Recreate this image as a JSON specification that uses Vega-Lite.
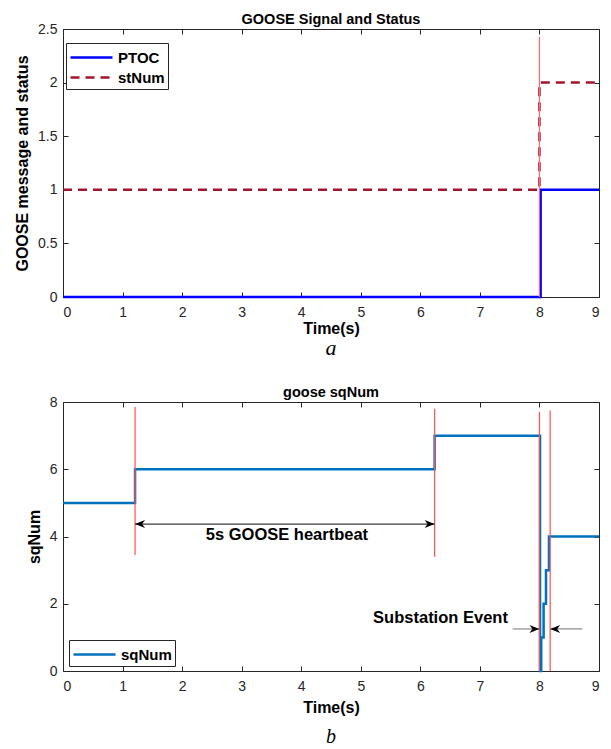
{
  "$schema": "https://vega.github.io/schema/vega-lite/v6.json",
  "padding": {"left": 14, "top": 11, "right": 6, "bottom": 0},
  "background": "white",
  "bounds": "flush",
  "spacing": 105,
  "resolve": {"scale": {"color": "independent", "strokeDash": "independent"}, "legend": {"color": "independent", "strokeDash": "independent"}},
  "config": {
    "font": "Liberation Sans",
    "view": {"stroke": "#262626", "strokeWidth": 1},
    "axis": {
      "grid": false, "domain": false, "tickColor": "#262626", "tickSize": -5, "tickWidth": 1,
      "labelColor": "#262626", "labelFont": "Liberation Sans", "labelFontSize": 14,
      "titleFont": "Liberation Sans", "titleFontSize": 16, "titleFontWeight": "bold", "titleColor": "#000000"
    },
    "axisX": {"labelPadding": 13, "titlePadding": 1},
    "axisY": {"labelPadding": 11, "titlePadding": 7},
    "title": {"font": "Liberation Sans", "fontSize": 14.5, "fontWeight": "bold", "color": "#000000", "offset": -5},
    "legend": {
      "strokeColor": "#262626", "fillColor": "white", "padding": 3, "symbolType": "M-1,0H3.2",
      "symbolSize": 400, "symbolStrokeWidth": 2.5, "labelFont": "Liberation Sans", "labelFontSize": 15,
      "labelFontWeight": "bold", "labelColor": "#000000", "rowPadding": 0, "labelOffset": 26
    }
  },
  "datasets": {
    "top": [
      {"t": 0, "v": 0, "series": "PTOC"},
      {"t": 8.02, "v": 1, "series": "PTOC"},
      {"t": 9, "v": 1, "series": "PTOC"},
      {"t": 0, "v": 1, "series": "stNum"},
      {"t": 8.0, "v": 2, "series": "stNum"},
      {"t": 9, "v": 2, "series": "stNum"}
    ],
    "topRule": [{"t": 8.0, "v": 0, "v2": 2.43}],
    "capA": [{"t": 4.5, "v": -0.48, "label": "a"}],
    "sq": [
      {"t": 0, "v": 5, "s": "sqNum"},
      {"t": 1.21, "v": 6, "s": "sqNum"},
      {"t": 6.24, "v": 7, "s": "sqNum"},
      {"t": 8.01, "v": 0, "s": "sqNum"},
      {"t": 8.03, "v": 1, "s": "sqNum"},
      {"t": 8.07, "v": 2, "s": "sqNum"},
      {"t": 8.11, "v": 3, "s": "sqNum"},
      {"t": 8.16, "v": 4, "s": "sqNum"},
      {"t": 9, "v": 4, "s": "sqNum"}
    ],
    "sqRules": [
      {"t": 1.21, "v": 3.45, "v2": 7.85},
      {"t": 6.24, "v": 3.4, "v2": 7.8},
      {"t": 8.0, "v": 0, "v2": 7.7},
      {"t": 8.18, "v": 0, "v2": 7.75}
    ],
    "arrowLines": [
      {"t": 1.21, "t2": 6.24, "v": 4.37, "kind": "heartbeat"},
      {"t": 7.55, "t2": 8.0, "v": 1.25, "kind": "event"},
      {"t": 8.18, "t2": 8.72, "v": 1.25, "kind": "event"}
    ],
    "arrowHeads": [
      {"t": 1.21, "v": 4.37, "dir": "L"},
      {"t": 6.24, "v": 4.37, "dir": "R"},
      {"t": 8.0, "v": 1.25, "dir": "R"},
      {"t": 8.18, "v": 1.25, "dir": "L"}
    ],
    "noteHeart": [{"t": 3.76, "v": 4.05, "label": "5s GOOSE heartbeat"}],
    "noteEvent": [{"t": 7.47, "v": 1.58, "label": "Substation Event"}],
    "capB": [{"t": 4.5, "v": -1.97, "label": "b"}]
  },
  "vconcat": [
    {
      "width": 536,
      "height": 268,
      "title": "GOOSE Signal and Status",
      "resolve": {"axis": {"x": "independent", "y": "independent"}},
      "layer": [
        {
          "data": {"name": "top"},
          "mark": {"type": "line", "interpolate": "step-after", "strokeWidth": 2.5},
          "encoding": {
            "x": {"field": "t", "type": "quantitative", "scale": {"domain": [0, 9], "nice": false},
                  "axis": {"values": [0,1,2,3,4,5,6,7,8,9], "title": "Time(s)"}},
            "y": {"field": "v", "type": "quantitative", "scale": {"domain": [0, 2.5], "nice": false},
                  "axis": {"values": [0,0.5,1,1.5,2,2.5], "labelExpr": "'' + datum.value", "title": "GOOSE message and status"}},
            "color": {"field": "series", "type": "nominal",
                      "scale": {"domain": ["PTOC", "stNum"], "range": ["#0000ff", "#a2142f"]},
                      "legend": {"orient": "none", "legendX": 3, "legendY": 14, "title": null}},
            "strokeDash": {"field": "series", "type": "nominal",
                      "scale": {"domain": ["PTOC", "stNum"], "range": [[1, 0], [9, 6]]},
                      "legend": {"orient": "none", "legendX": 3, "legendY": 14, "title": null}}
          }
        },
        {
          "data": {"name": "topRule"},
          "mark": {"type": "rule", "color": "#ff6a6a", "strokeWidth": 1.2},
          "encoding": {
            "x": {"field": "t", "type": "quantitative", "scale": {"domain": [0, 9], "nice": false},
                  "axis": {"orient": "top", "labels": false, "title": null, "values": [0,1,2,3,4,5,6,7,8,9]}},
            "y": {"field": "v", "type": "quantitative", "scale": {"domain": [0, 2.5], "nice": false},
                  "axis": {"orient": "right", "labels": false, "title": null, "values": [0,0.5,1,1.5,2,2.5]}},
            "y2": {"field": "v2"}
          }
        },
        {
          "data": {"name": "capA"},
          "mark": {"type": "text", "font": "Liberation Serif", "fontStyle": "italic", "fontSize": 22, "color": "#000000"},
          "encoding": {
            "x": {"field": "t", "type": "quantitative", "scale": {"domain": [0, 9], "nice": false}, "axis": null},
            "y": {"field": "v", "type": "quantitative", "scale": {"domain": [0, 2.5], "nice": false}, "axis": null},
            "text": {"field": "label"}
          }
        }
      ]
    },
    {
      "width": 536,
      "height": 269,
      "title": "goose sqNum",
      "resolve": {"axis": {"x": "independent", "y": "independent"}},
      "layer": [
        {
          "data": {"name": "sq"},
          "mark": {"type": "line", "interpolate": "step-after", "strokeWidth": 2.5},
          "encoding": {
            "x": {"field": "t", "type": "quantitative", "scale": {"domain": [0, 9], "nice": false},
                  "axis": {"values": [0,1,2,3,4,5,6,7,8,9], "title": "Time(s)", "titlePadding": 6}},
            "y": {"field": "v", "type": "quantitative", "scale": {"domain": [0, 8], "nice": false},
                  "axis": {"values": [0,2,4,6,8], "title": "sqNum"}},
            "color": {"field": "s", "type": "nominal",
                      "scale": {"domain": ["sqNum"], "range": ["#0072bd"]},
                      "legend": {"orient": "none", "legendX": 6, "legendY": 238, "title": null}}
          }
        },
        {
          "data": {"name": "sqRules"},
          "mark": {"type": "rule", "color": "#ff5050", "strokeWidth": 1.2},
          "encoding": {
            "x": {"field": "t", "type": "quantitative", "scale": {"domain": [0, 9], "nice": false},
                  "axis": {"orient": "top", "labels": false, "title": null, "values": [0,1,2,3,4,5,6,7,8,9]}},
            "y": {"field": "v", "type": "quantitative", "scale": {"domain": [0, 8], "nice": false},
                  "axis": {"orient": "right", "labels": false, "title": null, "values": [0,2,4,6,8]}},
            "y2": {"field": "v2"}
          }
        },
        {
          "data": {"name": "arrowLines"},
          "mark": {"type": "rule", "strokeWidth": 1.2},
          "encoding": {
            "x": {"field": "t", "type": "quantitative", "scale": {"domain": [0, 9], "nice": false}, "axis": null},
            "x2": {"field": "t2"},
            "y": {"field": "v", "type": "quantitative", "scale": {"domain": [0, 8], "nice": false}, "axis": null},
            "stroke": {"field": "kind", "type": "nominal", "scale": {"domain": ["heartbeat", "event"], "range": ["#3a3a3a", "#8c8c8c"]}, "legend": null}
          }
        },
        {
          "data": {"name": "arrowHeads"},
          "mark": {"type": "point", "filled": true, "opacity": 1, "size": 100, "color": "#000000"},
          "encoding": {
            "x": {"field": "t", "type": "quantitative", "scale": {"domain": [0, 9], "nice": false}, "axis": null},
            "y": {"field": "v", "type": "quantitative", "scale": {"domain": [0, 8], "nice": false}, "axis": null},
            "shape": {"field": "dir", "type": "nominal", "legend": null,
                      "scale": {"domain": ["L", "R"], "range": ["M0,0L2,-0.8L1.4,0L2,0.8Z", "M0,0L-2,-0.8L-1.4,0L-2,0.8Z"]}}
          }
        },
        {
          "data": {"name": "noteHeart"},
          "mark": {"type": "text", "fontSize": 16.5, "fontWeight": "bold", "color": "#000000", "baseline": "middle", "align": "center"},
          "encoding": {
            "x": {"field": "t", "type": "quantitative", "scale": {"domain": [0, 9], "nice": false}, "axis": null},
            "y": {"field": "v", "type": "quantitative", "scale": {"domain": [0, 8], "nice": false}, "axis": null},
            "text": {"field": "label"}
          }
        },
        {
          "data": {"name": "noteEvent"},
          "mark": {"type": "text", "fontSize": 16.5, "fontWeight": "bold", "color": "#000000", "baseline": "middle", "align": "right"},
          "encoding": {
            "x": {"field": "t", "type": "quantitative", "scale": {"domain": [0, 9], "nice": false}, "axis": null},
            "y": {"field": "v", "type": "quantitative", "scale": {"domain": [0, 8], "nice": false}, "axis": null},
            "text": {"field": "label"}
          }
        },
        {
          "data": {"name": "capB"},
          "mark": {"type": "text", "font": "Liberation Serif", "fontStyle": "italic", "fontSize": 20, "color": "#000000"},
          "encoding": {
            "x": {"field": "t", "type": "quantitative", "scale": {"domain": [0, 9], "nice": false}, "axis": null},
            "y": {"field": "v", "type": "quantitative", "scale": {"domain": [0, 8], "nice": false}, "axis": null},
            "text": {"field": "label"}
          }
        }
      ]
    }
  ]
}
